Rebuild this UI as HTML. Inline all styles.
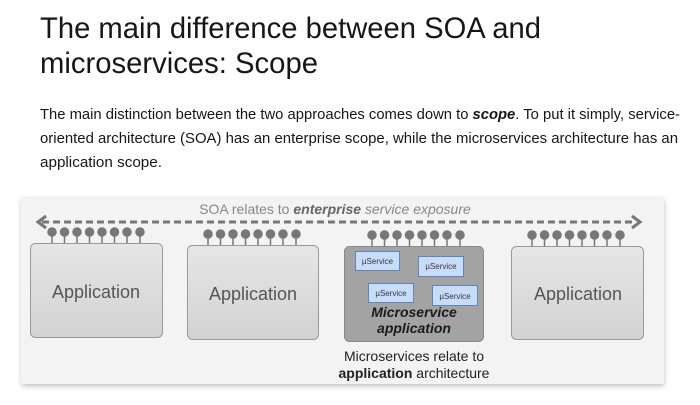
<!DOCTYPE html>
<html><head><meta charset="utf-8"><style>
html,body{margin:0;padding:0;background:#fff;}
svg{display:block;}
</style></head><body>
<svg width="700" height="405" viewBox="0 0 700 405" xmlns="http://www.w3.org/2000/svg" font-family="Liberation Sans, sans-serif">
<defs>
<linearGradient id="g1" x1="0" y1="0" x2="0" y2="1"><stop offset="0" stop-color="#e6e6e6"/><stop offset="1" stop-color="#d2d2d2"/></linearGradient>
<filter id="sh" x="-5%" y="-10%" width="110%" height="125%"><feGaussianBlur stdDeviation="3"/></filter>
</defs>
<text x="40" y="38" font-size="30" font-weight="300" fill="#161616" textLength="501" lengthAdjust="spacingAndGlyphs">The main difference between SOA and</text>
<text x="40" y="73" font-size="30" font-weight="300" fill="#161616" textLength="278" lengthAdjust="spacingAndGlyphs">microservices: Scope</text>
<text x="40" y="119" font-size="15" fill="#161616" textLength="640" lengthAdjust="spacingAndGlyphs">The main distinction between the two approaches comes down to <tspan font-weight="bold" font-style="italic">scope</tspan>. To put it simply, service-</text>
<text x="40" y="143" font-size="15" fill="#161616" textLength="638" lengthAdjust="spacingAndGlyphs">oriented architecture (SOA) has an enterprise scope, while the microservices architecture has an</text>
<text x="40" y="167" font-size="15" fill="#161616" textLength="122" lengthAdjust="spacingAndGlyphs">application scope.</text>

<rect x="22" y="200" width="642" height="186" fill="#bbb" filter="url(#sh)"/>
<rect x="21" y="198" width="643" height="186" fill="#f3f3f3"/>

<text x="335" y="214" font-size="14" fill="#888" text-anchor="middle">SOA relates to <tspan font-weight="bold" font-style="italic" fill="#666">enterprise</tspan><tspan font-style="italic"> service exposure</tspan></text>
<line x1="42" y1="222" x2="636" y2="222" stroke="#777" stroke-width="3" stroke-dasharray="7,4"/>
<path d="M46 216 L38 222 L46 228" fill="none" stroke="#777" stroke-width="3"/>
<path d="M632 216 L640 222 L632 228" fill="none" stroke="#777" stroke-width="3"/>

<g id="dots" fill="#777" stroke="#777" stroke-width="1.5">
</g>
<g fill="#777" stroke="#777" stroke-width="1.5">
<!-- dots app1 -->
<g transform="translate(52,0)">
<circle cx="0" cy="232" r="4"/><line x1="0" y1="232" x2="0" y2="243"/>
<circle cx="12.5" cy="232" r="4"/><line x1="12.5" y1="232" x2="12.5" y2="243"/>
<circle cx="25" cy="232" r="4"/><line x1="25" y1="232" x2="25" y2="243"/>
<circle cx="37.5" cy="232" r="4"/><line x1="37.5" y1="232" x2="37.5" y2="243"/>
<circle cx="50" cy="232" r="4"/><line x1="50" y1="232" x2="50" y2="243"/>
<circle cx="62.5" cy="232" r="4"/><line x1="62.5" y1="232" x2="62.5" y2="243"/>
<circle cx="75" cy="232" r="4"/><line x1="75" y1="232" x2="75" y2="243"/>
<circle cx="88" cy="232" r="4"/><line x1="88" y1="232" x2="88" y2="243"/>
</g>
<g transform="translate(208,2)">
<circle cx="0" cy="232" r="4"/><line x1="0" y1="232" x2="0" y2="243"/>
<circle cx="12.5" cy="232" r="4"/><line x1="12.5" y1="232" x2="12.5" y2="243"/>
<circle cx="25" cy="232" r="4"/><line x1="25" y1="232" x2="25" y2="243"/>
<circle cx="37.5" cy="232" r="4"/><line x1="37.5" y1="232" x2="37.5" y2="243"/>
<circle cx="50" cy="232" r="4"/><line x1="50" y1="232" x2="50" y2="243"/>
<circle cx="62.5" cy="232" r="4"/><line x1="62.5" y1="232" x2="62.5" y2="243"/>
<circle cx="75" cy="232" r="4"/><line x1="75" y1="232" x2="75" y2="243"/>
<circle cx="88" cy="232" r="4"/><line x1="88" y1="232" x2="88" y2="243"/>
</g>
<g transform="translate(372,3)">
<circle cx="0" cy="232" r="4"/><line x1="0" y1="232" x2="0" y2="243"/>
<circle cx="12.5" cy="232" r="4"/><line x1="12.5" y1="232" x2="12.5" y2="243"/>
<circle cx="25" cy="232" r="4"/><line x1="25" y1="232" x2="25" y2="243"/>
<circle cx="37.5" cy="232" r="4"/><line x1="37.5" y1="232" x2="37.5" y2="243"/>
<circle cx="50" cy="232" r="4"/><line x1="50" y1="232" x2="50" y2="243"/>
<circle cx="62.5" cy="232" r="4"/><line x1="62.5" y1="232" x2="62.5" y2="243"/>
<circle cx="75" cy="232" r="4"/><line x1="75" y1="232" x2="75" y2="243"/>
<circle cx="88" cy="232" r="4"/><line x1="88" y1="232" x2="88" y2="243"/>
</g>
<g transform="translate(532,3)">
<circle cx="0" cy="232" r="4"/><line x1="0" y1="232" x2="0" y2="243"/>
<circle cx="12.5" cy="232" r="4"/><line x1="12.5" y1="232" x2="12.5" y2="243"/>
<circle cx="25" cy="232" r="4"/><line x1="25" y1="232" x2="25" y2="243"/>
<circle cx="37.5" cy="232" r="4"/><line x1="37.5" y1="232" x2="37.5" y2="243"/>
<circle cx="50" cy="232" r="4"/><line x1="50" y1="232" x2="50" y2="243"/>
<circle cx="62.5" cy="232" r="4"/><line x1="62.5" y1="232" x2="62.5" y2="243"/>
<circle cx="75" cy="232" r="4"/><line x1="75" y1="232" x2="75" y2="243"/>
<circle cx="88" cy="232" r="4"/><line x1="88" y1="232" x2="88" y2="243"/>
</g>
</g>

<rect x="30.5" y="243.5" width="132" height="94" rx="5" fill="url(#g1)" stroke="#999"/>
<text x="96" y="298" font-size="18" fill="#555" text-anchor="middle">Application</text>
<rect x="187.5" y="245.5" width="131" height="94" rx="5" fill="url(#g1)" stroke="#999"/>
<text x="253" y="300" font-size="18" fill="#555" text-anchor="middle">Application</text>
<rect x="511.5" y="246.5" width="132" height="93" rx="5" fill="url(#g1)" stroke="#999"/>
<text x="578" y="300" font-size="18" fill="#555" text-anchor="middle">Application</text>

<rect x="344.5" y="246.5" width="139" height="95" rx="5" fill="#a3a3a3" stroke="#888"/>
<g font-size="8" fill="#335" text-anchor="middle">
<rect x="355.5" y="251.5" width="44" height="19" fill="#c8ddf5" stroke="#5b84c4"/><text x="377.5" y="264">µService</text>
<rect x="418.5" y="256.5" width="45" height="20" fill="#c8ddf5" stroke="#5b84c4"/><text x="441" y="269">µService</text>
<rect x="368.5" y="283.5" width="45" height="19" fill="#c8ddf5" stroke="#5b84c4"/><text x="391" y="296">µService</text>
<rect x="432.5" y="285.5" width="45" height="20" fill="#c8ddf5" stroke="#5b84c4"/><text x="455" y="299">µService</text>
</g>
<text x="414" y="317" font-size="14" font-weight="bold" font-style="italic" fill="#1a1a1a" text-anchor="middle">Microservice</text>
<text x="414" y="333" font-size="14" font-weight="bold" font-style="italic" fill="#1a1a1a" text-anchor="middle">application</text>
<text x="414" y="361" font-size="14" fill="#222" text-anchor="middle">Microservices relate to</text>
<text x="414" y="378" font-size="14" fill="#222" text-anchor="middle"><tspan font-weight="bold">application</tspan> architecture</text>
</svg>
</body></html>
